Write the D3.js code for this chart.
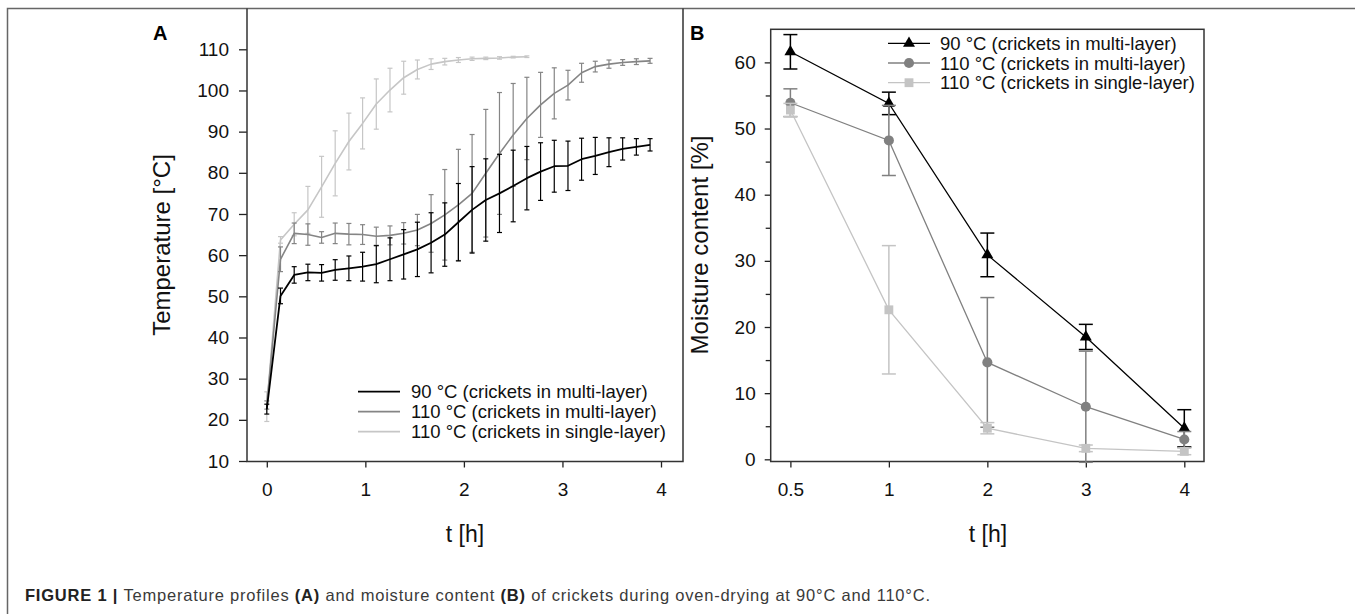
<!DOCTYPE html>
<html lang="en">
<head>
<meta charset="UTF-8">
<title>crickets oven-drying</title>
<script src="https://d3js.org/d3.v7.min.js"></script>
<style>
  body { margin: 0; background: #fff; }
  svg text { font-family: "Liberation Sans", Arial, sans-serif; }
</style>
</head>
<body>
<svg></svg>
<script>
// ---- panel A: temperature profiles ----
const timeA = [0, 0.139, 0.278, 0.417, 0.556, 0.694, 0.833, 0.972, 1.111, 1.25, 1.389, 1.528, 1.667, 1.806,
  1.944, 2.083, 2.222, 2.361, 2.5, 2.639, 2.778, 2.917, 3.056, 3.194, 3.333, 3.472, 3.611, 3.75, 3.889];
const multi90 = [22.6, 50.1, 55.2, 55.8, 55.7, 56.4, 56.8, 57.2, 57.8, 59.0, 60.2, 61.4, 63.0, 65.0,
  68.0, 71.0, 73.4, 75.0, 76.8, 78.7, 80.3, 81.6, 81.7, 83.3, 84.1, 85.0, 85.8, 86.3, 86.8];
const multi90Err = [1.2, 1.9, 2, 2, 2, 2.5, 3, 3.5, 4.5, 5.2, 6, 6.6, 7.3, 7.7,
  9.4, 10.5, 10, 9.5, 8.7, 7.7, 7, 6.3, 6, 5.1, 4.5, 3.5, 2.7, 2, 1.5];
const multi110 = [23.6, 59.0, 65.3, 65.0, 64.3, 65.3, 65.1, 65.0, 64.6, 64.8, 65.3, 66.1, 67.7, 69.8,
  72.2, 75.0, 79.9, 84.7, 89.2, 93.2, 96.5, 99.3, 101.3, 104.3, 105.8, 106.4, 106.8, 107.0, 107.2];
const multi110Err = [1, 3, 2.5, 2.6, 1.4, 2.5, 2.6, 2.4, 2.2, 2.3, 2.6, 3.8, 7, 11,
  13.5, 14.3, 15.5, 14.8, 12.5, 10, 7.9, 6.2, 3.6, 2.3, 1.3, 1, 0.7, 0.7, 0.6];
const single110 = [23.2, 63.7, 67.5, 71.0, 76.6, 82.3, 87.6, 92.0, 96.7, 100.1, 103.1, 105.1, 106.4, 107.0,
  107.4, 107.7, 107.8, 107.9, 108.1, 108.2];
const single110Err = [3.6, 0.8, 2.8, 5.7, 7.4, 7.9, 6.9, 6.2, 6.1, 5.3, 4, 2.3, 1.3, 0.8,
  0.6, 0.4, 0.3, 0.3, 0.2, 0.2];
const ticksAx = [0, 1, 2, 3, 4];
const ticksAy = [10, 20, 30, 40, 50, 60, 70, 80, 90, 100, 110];

// ---- panel B: moisture content ----
const timeB = ['0.5', '1', '2', '3', '4'];
const moist90 = [61.6, 53.8, 30.9, 18.5, 4.7];
const moist90Err = [2.6, 1.7, 3.3, 1.9, 2.8];
const moist110m = [53.9, 48.2, 14.65, 7.95, 3.0];
const moist110mErr = [2.1, 5.3, 9.8, 8.4, 1.2];
const moist110s = [52.8, 22.6, 4.7, 1.66, 1.2];
const moist110sErr = [1.0, 9.7, 0.85, 0.5, 0.5];
const ticksBy = [0, 10, 20, 30, 40, 50, 60];
const minorBy = [5, 15, 25, 35, 45, 55];

const labels = ['90 °C (crickets in multi-layer)', '110 °C (crickets in multi-layer)', '110 °C (crickets in single-layer)'];
const colors = ['#000000', '#858585', '#c6c6c6'];

const svg = d3.select('svg').attr('width', 1355).attr('height', 614);

// outer figure frame
svg.append('path')
  .attr('d', 'M7.5,620V8.5H1360')
  .attr('fill', 'none').attr('stroke', '#666').attr('stroke-width', 1.5);

// ===== panel A =====
const xA = d3.scaleLinear().domain([0, 4]).range([266.8, 661]);
const yA = d3.scaleLinear().domain([10, 110]).range([461, 49.3]);
const gA = svg.append('g');

gA.append('g')
  .attr('transform', 'translate(0,461.5)')
  .call(d3.axisBottom(xA).tickValues(ticksAx).tickSize(6).tickPadding(15).tickFormat(d3.format('d')))
  .call(g => g.select('.domain').remove());
gA.append('g')
  .attr('transform', 'translate(247,0)')
  .call(d3.axisLeft(yA).tickValues(ticksAy).tickSize(8).tickPadding(10))
  .call(g => g.select('.domain').remove());
gA.selectAll('.tick line').attr('stroke', '#222').attr('stroke-width', 1.3);
gA.selectAll('.tick text').attr('font-size', 19).attr('fill', '#111')
  .attr('font-family', '"Liberation Sans", Arial, sans-serif');

// frame of panel A (left, bottom, right)
gA.append('path')
  .attr('d', 'M247,8.5V461.5H683V8.5')
  .attr('fill', 'none').attr('stroke', '#333').attr('stroke-width', 1.5);

const seriesA = [
  { mean: single110, err: single110Err, color: colors[2], w: 1.6 },
  { mean: multi110, err: multi110Err, color: colors[1], w: 1.6 },
  { mean: multi90, err: multi90Err, color: colors[0], w: 1.8 }
];

const lineA = d3.line().x((d, i) => xA(timeA[i])).y(d => yA(d));

seriesA.forEach(s => {
  const pts = s.mean.map((m, i) => ({ t: timeA[i], m: m, e: s.err[i] }));
  const eb = gA.append('g').attr('stroke', s.color).attr('stroke-width', 1.2);
  eb.selectAll('line.v').data(pts).join('line').attr('class', 'v')
    .attr('x1', d => xA(d.t)).attr('x2', d => xA(d.t))
    .attr('y1', d => yA(d.m - d.e)).attr('y2', d => yA(d.m + d.e));
  eb.selectAll('line.top').data(pts).join('line').attr('class', 'top')
    .attr('x1', d => xA(d.t) - 2.5).attr('x2', d => xA(d.t) + 2.5)
    .attr('y1', d => yA(d.m + d.e)).attr('y2', d => yA(d.m + d.e));
  eb.selectAll('line.bot').data(pts).join('line').attr('class', 'bot')
    .attr('x1', d => xA(d.t) - 2.5).attr('x2', d => xA(d.t) + 2.5)
    .attr('y1', d => yA(d.m - d.e)).attr('y2', d => yA(d.m - d.e));
  gA.append('path').datum(s.mean)
    .attr('fill', 'none').attr('stroke', s.color).attr('stroke-width', s.w)
    .attr('stroke-linejoin', 'round')
    .attr('d', lineA);
});

// legend A
const legA = gA.append('g').attr('transform', 'translate(358,391.7)');
labels.forEach((lab, i) => {
  const row = legA.append('g').attr('transform', `translate(0,${i * 20})`);
  row.append('line').attr('x1', 0).attr('x2', 42).attr('y1', 0).attr('y2', 0)
    .attr('stroke', colors[i]).attr('stroke-width', 1.8);
  row.append('text').attr('x', 53).attr('y', 6.5).attr('font-size', 18.5).attr('fill', '#111').text(lab);
});

gA.append('text').attr('transform', 'translate(170,245) rotate(-90)')
  .attr('text-anchor', 'middle').attr('font-size', 24).attr('fill', '#111')
  .text('Temperature [°C]');
gA.append('text').attr('x', 465).attr('y', 541.5)
  .attr('text-anchor', 'middle').attr('font-size', 23).attr('fill', '#111')
  .text('t [h]');
gA.append('text').attr('x', 153).attr('y', 40)
  .attr('font-size', 20).attr('font-weight', 'bold').text('A');

// ===== panel B =====
const xB = d3.scalePoint().domain(timeB).range([770.7, 1204]).padding(0.2);
const yB = d3.scaleLinear().domain([-0.3, 65]).range([461.3, 29.3]);
const gB = svg.append('g');

gB.append('g')
  .attr('transform', 'translate(0,461.5)')
  .call(d3.axisBottom(xB).tickSize(6).tickPadding(15))
  .call(g => g.select('.domain').remove());
gB.append('g')
  .attr('transform', 'translate(770.7,0)')
  .call(d3.axisLeft(yB).tickValues(ticksBy).tickSize(6).tickPadding(9))
  .call(g => g.select('.domain').remove());
gB.append('g')
  .attr('transform', 'translate(770.7,0)')
  .call(d3.axisLeft(yB).tickValues(minorBy).tickSize(5).tickFormat(''))
  .call(g => g.select('.domain').remove());
gB.selectAll('.tick line').attr('stroke', '#222').attr('stroke-width', 1.3);
gB.selectAll('.tick text').attr('font-size', 19).attr('fill', '#111')
  .attr('font-family', '"Liberation Sans", Arial, sans-serif');

gB.append('rect')
  .attr('x', 770.7).attr('y', 29.3).attr('width', 1204 - 770.7).attr('height', 461.5 - 29.3)
  .attr('fill', 'none').attr('stroke', '#333').attr('stroke-width', 1.5);

const seriesB = [
  { mean: moist90, err: moist90Err, color: colors[0], sym: d3.symbolTriangle, size: 62 },
  { mean: moist110m, err: moist110mErr, color: '#808080', sym: d3.symbolCircle, size: 80 },
  { mean: moist110s, err: moist110sErr, color: '#c4c4c4', sym: d3.symbolSquare, size: 78 }
];

const lineB = d3.line().x((d, i) => xB(timeB[i])).y(d => yB(d));

seriesB.forEach(s => {
  const pts = s.mean.map((m, i) => ({ t: timeB[i], m: m, e: s.err[i] }));
  const eb = gB.append('g').attr('stroke', s.color).attr('stroke-width', 1.5);
  eb.selectAll('line.v').data(pts).join('line').attr('class', 'v')
    .attr('x1', d => xB(d.t)).attr('x2', d => xB(d.t))
    .attr('y1', d => yB(d.m - d.e)).attr('y2', d => yB(d.m + d.e));
  eb.selectAll('line.top').data(pts).join('line').attr('class', 'top')
    .attr('x1', d => xB(d.t) - 7).attr('x2', d => xB(d.t) + 7)
    .attr('y1', d => yB(d.m + d.e)).attr('y2', d => yB(d.m + d.e));
  eb.selectAll('line.bot').data(pts).join('line').attr('class', 'bot')
    .attr('x1', d => xB(d.t) - 7).attr('x2', d => xB(d.t) + 7)
    .attr('y1', d => yB(d.m - d.e)).attr('y2', d => yB(d.m - d.e));
  gB.append('path').datum(s.mean)
    .attr('fill', 'none').attr('stroke', s.color).attr('stroke-width', 1.3)
    .attr('d', lineB);
  gB.selectAll(null).data(pts).join('path')
    .attr('transform', d => `translate(${xB(d.t)},${yB(d.m)})`)
    .attr('d', d3.symbol(s.sym, s.size))
    .attr('fill', s.color);
});

// legend B
const legB = gB.append('g').attr('transform', 'translate(888,43.3)');
seriesB.forEach((s, i) => {
  const row = legB.append('g').attr('transform', `translate(0,${i * 19.7})`);
  row.append('line').attr('x1', 0).attr('x2', 42).attr('y1', 0).attr('y2', 0)
    .attr('stroke', s.color).attr('stroke-width', 1.3);
  row.append('path').attr('transform', 'translate(21,0)')
    .attr('d', d3.symbol(s.sym, s.size)).attr('fill', s.color);
  row.append('text').attr('x', 52).attr('y', 6.5).attr('font-size', 18.5).attr('fill', '#111').text(labels[i]);
});

gB.append('text').attr('transform', 'translate(708,245) rotate(-90)')
  .attr('text-anchor', 'middle').attr('font-size', 24).attr('fill', '#111')
  .text('Moisture content [%]');
gB.append('text').attr('x', 988).attr('y', 541.5)
  .attr('text-anchor', 'middle').attr('font-size', 23).attr('fill', '#111')
  .text('t [h]');
gB.append('text').attr('x', 690).attr('y', 40)
  .attr('font-size', 20).attr('font-weight', 'bold').text('B');

// caption
const cap = svg.append('text').attr('x', 25).attr('y', 601)
  .attr('font-size', 16.5).attr('fill', '#3a3a3a')
  .attr('textLength', 905).attr('lengthAdjust', 'spacing');
cap.append('tspan').attr('font-weight', 'bold').attr('fill', '#222').text('FIGURE 1 | ');
cap.append('tspan').text('Temperature profiles ');
cap.append('tspan').attr('font-weight', 'bold').attr('fill', '#222').text('(A)');
cap.append('tspan').text(' and moisture content ');
cap.append('tspan').attr('font-weight', 'bold').attr('fill', '#222').text('(B)');
cap.append('tspan').text(' of crickets during oven-drying at 90°C and 110°C.');
</script>
</body>
</html>
